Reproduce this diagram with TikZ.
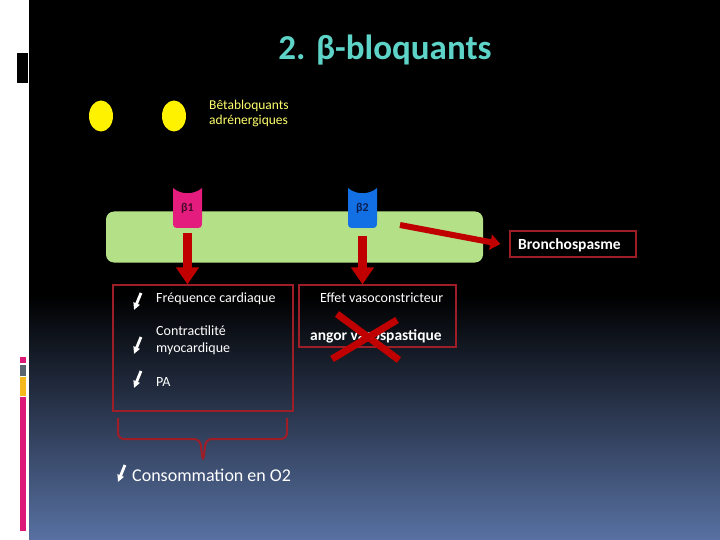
\documentclass[tikz,border=0pt]{standalone}
\usepackage{fontspec}
\setmainfont{Carlito}
\usepackage{tikz}
\usetikzlibrary{arrows.meta, positioning}

\definecolor{titlecol}{RGB}{94,212,200}
\definecolor{membrane}{RGB}{180,225,135}
\definecolor{recpink}{RGB}{228,28,125}
\definecolor{recblue}{RGB}{18,112,228}
\definecolor{arrowred}{RGB}{192,0,0}
\definecolor{boxred}{RGB}{158,30,40}
\definecolor{slidebot}{RGB}{88,113,162}
\definecolor{ligandtxt}{RGB}{255,255,110}
\definecolor{barpink}{RGB}{220,25,120}
\definecolor{bargray}{RGB}{90,100,110}
\definecolor{baryellow}{RGB}{245,185,30}

\tikzset{
  effectbox/.style={draw=boxred, line width=1.2pt, inner sep=0pt},
  bigarrow/.style={arrowred, line width=9pt, -{Triangle[width=22pt,length=17pt]}},
  thinarrow/.style={arrowred, line width=6pt, -{Triangle[width=15pt,length=10pt]}},
  downglyph/.style={white, line width=2.8pt, -{Triangle[width=6.5pt,length=7pt]}},
  txt/.style={white, anchor=base west, inner sep=0pt, font=\fontsize{14}{17}\selectfont},
  boldtxt/.style={txt, font=\fontsize{15.5}{17}\selectfont\bfseries},
  reclabel/.style={minimum width=29pt, minimum height=40pt, inner sep=0pt, font=\fontsize{12}{14}\selectfont\bfseries}
}

\begin{document}
\begin{tikzpicture}[x=1pt,y=-1pt]
    \useasboundingbox (0,0) rectangle (720,540);
    \fill[white] (0,0) rectangle (29,540);
    \fill[black] (17,53) rectangle (28,83);
    \fill[barpink] (20,357) rectangle (26,363);
    \fill[bargray] (20,365) rectangle (26,376);
    \fill[baryellow] (20,377) rectangle (26,396);
    \fill[barpink] (20,397) rectangle (26,531);
    \fill[black] (29,0) rectangle (720,295);
    \shade[top color=black, bottom color=slidebot] (29,295) rectangle (720,540);

    \node[titlecol, anchor=base, font=\fontsize{35}{40}\selectfont\bfseries] (title) at (385,60) {2. β-bloquants};

    \fill[yellow] (101,116) ellipse [x radius=12pt, y radius=15.5pt];
    \fill[yellow] (174,116) ellipse [x radius=12pt, y radius=15.5pt];
    \node[ligandtxt, anchor=base west, inner sep=0pt, align=left, font=\fontsize{13.5}{15}\selectfont] (ligand) at (209,125) {Bêtabloquants\\adrénergiques};

    \node[fill=membrane, rounded corners=8pt, minimum width=377pt, minimum height=51pt] (memb) at (294.5,237) {};

    \foreach \x/\c in {173/recpink, 348/recblue}
        \fill[\c] (\x,188) .. controls (\x+8,195) and (\x+21,195) .. (\x+29,188) -- (\x+29,220)
            .. controls (\x+29,228) .. (\x+21,228) -- (\x+8,228) .. controls (\x,228) .. (\x,220) -- cycle;
    \node[reclabel, text={rgb,255:red,70;green,10;blue,40}] (b1) at (187.5,208) {β1};
    \node[reclabel, text={rgb,255:red,10;green,30;blue,80}] (b2) at (362.5,208) {β2};

    \node[effectbox, minimum width=180pt, minimum height=126pt] (fc) at (203,348) {};
    \node[effectbox, minimum width=157pt, minimum height=62pt] (vaso) at (377.5,316) {};
    \node[effectbox, minimum width=126pt, minimum height=26pt] (broncho) at (573,244) {};

    \node[boldtxt] at (518,249) {Bronchospasme};
    \node[txt] at (156,302) {Fréquence cardiaque};
    \node[txt, align=left] at (156,352) {Contractilité\\myocardique};
    \node[txt] at (156,386) {PA};
    \node[txt] at (320,302) {Effet vasoconstricteur};
    \node[boldtxt] at (310,340) {angor vasospastique};
    \node[txt, font=\fontsize{18}{20}\selectfont] (conso) at (132,481) {Consommation en O2};

    \foreach \y in {293,337,371}
        \draw[downglyph] (141,\y) -- (134,\y+17);
    \draw[downglyph] (125,465) -- (118,482);

    \draw[bigarrow] ([yshift=-5pt]b1.south) -- (b1 |- fc.north);
    \draw[bigarrow] ([yshift=-8pt]b2.south) -- (b2 |- vaso.north);
    \coordinate (bsrc) at (400,225);
    \draw[thinarrow] (bsrc) -- ([xshift=-9pt]broncho.west);

    \draw[arrowred, line width=7pt] (337,314) -- (399,360);
    \draw[arrowred, line width=7pt] (397,320) -- (332,359);

    \draw[boxred, line width=2pt, rounded corners=6pt] (118,418) -- (118,439) -- (200,439) -- (203,462) -- (206,439) -- (287,439) -- (287,418);
\end{tikzpicture}
\end{document}
